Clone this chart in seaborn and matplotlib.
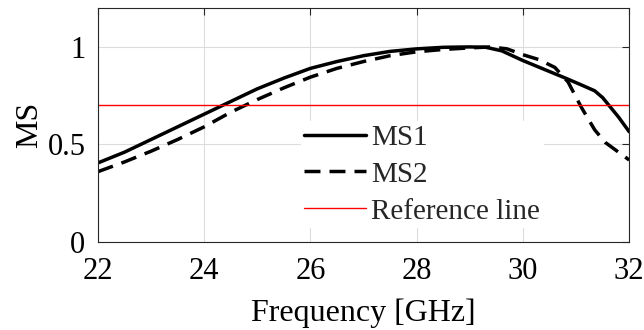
import matplotlib
matplotlib.use("Agg")
import matplotlib.pyplot as plt
import seaborn as sns
import pandas as pd

# Data
freq_ms1 = [22, 22.5, 23, 23.5, 24, 24.5, 25, 25.5, 26, 26.5, 27, 27.5, 28, 28.5, 29, 29.3, 29.6, 30, 30.4, 30.8, 31.1, 31.35, 31.5, 31.65, 31.8, 32]
ms1 = [0.405, 0.46, 0.525, 0.59, 0.655, 0.72, 0.785, 0.84, 0.89, 0.925, 0.955, 0.977, 0.99, 0.998, 1.0, 0.998, 0.98, 0.93, 0.885, 0.84, 0.805, 0.775, 0.74, 0.69, 0.64, 0.565]
freq_ms2 = [22, 22.5, 23, 23.5, 24, 24.5, 25, 25.5, 26, 26.5, 27, 27.5, 28, 28.5, 29, 29.4, 29.7, 30, 30.3, 30.6, 30.85, 31.1, 31.35, 31.55, 31.75, 32]
ms2 = [0.36, 0.41, 0.465, 0.525, 0.59, 0.665, 0.73, 0.79, 0.845, 0.89, 0.925, 0.955, 0.975, 0.987, 0.995, 1.0, 0.99, 0.96, 0.935, 0.895, 0.82, 0.69, 0.575, 0.51, 0.47, 0.42]
ref_level = 0.7
x_ticks = [22, 24, 26, 28, 30, 32]
y_ticks = [0, 0.5, 1]
y_tick_labels = ["0", "0.5", "1"]
series_labels = ["MS1", "MS2", "Reference line"]

sns.set_style("whitegrid")
plt.rcParams['font.family'] = ['Liberation Serif', 'DejaVu Serif']

fig = plt.figure(figsize=(6.44, 3.30), dpi=100)
ax = fig.add_axes([0.152, 0.267, 0.825, 0.709])

df1 = pd.DataFrame({"f": freq_ms1, "v": ms1})
df2 = pd.DataFrame({"f": freq_ms2, "v": ms2})
sns.lineplot(data=df1, x="f", y="v", ax=ax, color="black", lw=2.5, label=series_labels[0])
sns.lineplot(data=df2, x="f", y="v", ax=ax, color="black", lw=2.5, label=series_labels[1],
             linestyle=(0, (4.6, 2.6)))
ax.axhline(ref_level, color="#ff0000", lw=1.0, label=series_labels[2])

ax.set_xlim(22, 32)
ax.set_ylim(0, 1.2)
ax.set_xticks(x_ticks)
ax.set_xticklabels([str(t) for t in x_ticks])
ax.set_yticks(y_ticks)
ax.set_yticklabels(y_tick_labels)
ax.tick_params(axis='both', which='both', direction='in', length=5, width=0.8,
               top=True, right=True, labelsize=22, colors='#262626')
ax.tick_params(axis='x', pad=11)
ax.tick_params(axis='y', pad=9)
for lab in ax.get_xticklabels() + ax.get_yticklabels():
    lab.set_color('black')
ax.grid(True, color='#dcdcdc', lw=0.8)
for s in ax.spines.values():
    s.set_color('#262626')
    s.set_linewidth(0.8)
ax.set_facecolor('white')
ax.set_xlabel("Frequency [GHz]", fontsize=23, color='black', labelpad=9)
ax.set_ylabel("MS", fontsize=23, color='black', labelpad=2)

leg = ax.legend(loc='upper left', bbox_to_anchor=(0.382, 0.515), frameon=True, fontsize=21,
                handlelength=2.15, handletextpad=0.15, borderpad=0.1, labelspacing=0.36,
                borderaxespad=0)
leg.get_frame().set_facecolor('white')
leg.get_frame().set_edgecolor('white')
leg.get_frame().set_alpha(1)

fig.savefig("out.png", dpi=100, facecolor='white')
